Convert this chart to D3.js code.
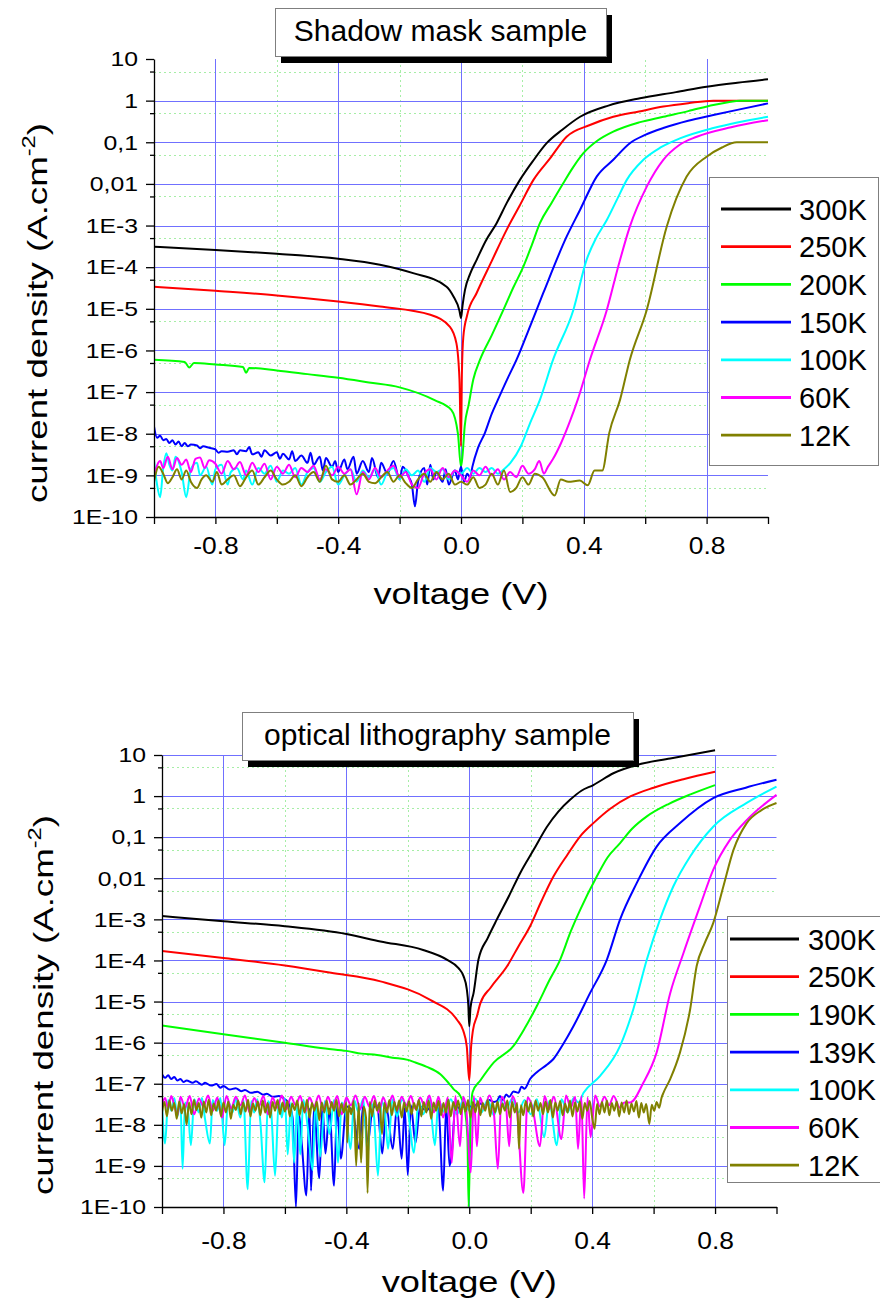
<!DOCTYPE html>
<html>
<head>
<meta charset="utf-8">
<script src="https://cdn.jsdelivr.net/npm/d3@7"></script>
<style>
  body { margin: 0; background: #fff; }
  svg { display: block; font-family: "Liberation Sans", Arial, sans-serif; }
</style>
</head>
<body>
<svg id="chart"></svg>
<script>
// ---------- axis values ----------
const yTickValues = [10, 1, 0.1, 0.01, 1e-3, 1e-4, 1e-5, 1e-6, 1e-7, 1e-8, 1e-9, 1e-10];
const yTickLabels = ["10", "1", "0,1", "0,01", "1E-3", "1E-4", "1E-5", "1E-6", "1E-7", "1E-8", "1E-9", "1E-10"];
const yMinorValues = [5, 0.5, 0.05, 5e-3, 5e-4, 5e-5, 5e-6, 5e-7, 5e-8, 5e-9, 5e-10];
const xLabelValues = [-0.8, -0.4, 0, 0.4, 0.8];
const xLabelText = ["-0.8", "-0.4", "0.0", "0.4", "0.8"];
const xMinorValues = [-1, -0.6, -0.2, 0.2, 0.6, 1];
const xGridMinor = [-0.6, -0.2, 0.2, 0.6];

const seriesColors = ["#000000", "#ff0000", "#00ff00", "#0000ff", "#00ffff", "#ff00ff", "#808000"];
const shadowNames = ["300K", "250K", "200K", "150K", "100K", "60K", "12K"];
const lithoNames = ["300K", "250K", "190K", "139K", "100K", "60K", "12K"];

// ---------- shadow mask sample: [voltage V, current density A/cm2] ----------
const shadow300 = [[-1,3.1e-4],[-0.8,2.6e-4],[-0.6,2.1e-4],[-0.4,1.6e-4],[-0.264,1.15e-4],[-0.156,7.2e-5],[-0.047,3.4e-5],[-0.025,2e-5],[-0.005,9e-6],[0,6e-6],[0.005,1.2e-5],[0.013,2.85e-5],[0.03,7e-5],[0.051,1.5e-4],[0.08,4.2e-4],[0.116,1.14e-3],[0.15,3.6e-3],[0.192,1.25e-2],[0.235,3.6e-2],[0.279,9.5e-2],[0.33,0.2],[0.388,0.41],[0.48,0.76],[0.583,1.14],[0.7,1.6],[0.8,2.16],[0.9,2.7],[1,3.26]];
const shadow250 = [[-1,3.4e-5],[-0.8,2.7e-5],[-0.6,2.1e-5],[-0.4,1.5e-5],[-0.264,1.13e-5],[-0.1,7.2e-6],[-0.036,3.7e-6],[-0.015,1.5e-6],[-0.005,2e-7],[0,5e-9],[0.003,3e-7],[0.0075,2.1e-6],[0.02,7e-6],[0.051,2.4e-5],[0.1,1.4e-4],[0.149,8e-4],[0.19,2.9e-3],[0.236,1.25e-2],[0.29,4.1e-2],[0.344,0.136],[0.42,0.26],[0.496,0.41],[0.58,0.55],[0.659,0.72],[0.74,0.87],[0.822,1],[0.9,1],[1,1]];
const shadow200 = [[-1,6e-7],[-0.9,5.3e-7],[-0.885,3.9e-7],[-0.87,5e-7],[-0.8,4.6e-7],[-0.71,4e-7],[-0.7,2.9e-7],[-0.69,3.8e-7],[-0.6,3.3e-7],[-0.5,2.7e-7],[-0.4,2.2e-7],[-0.3,1.7e-7],[-0.2,1.3e-7],[-0.086,6.4e-8],[-0.031,3.7e-8],[-0.01,1e-8],[0,1.6e-9],[0.005,3e-9],[0.012,1.5e-8],[0.025,5e-8],[0.04,2e-7],[0.062,6e-7],[0.1,2.3e-6],[0.138,9.4e-6],[0.17,3.2e-5],[0.203,1.03e-4],[0.23,3.3e-4],[0.257,1.14e-3],[0.295,3.5e-3],[0.333,1.04e-2],[0.365,2.5e-2],[0.398,5.4e-2],[0.445,0.11],[0.496,0.18],[0.58,0.3],[0.659,0.41],[0.74,0.56],[0.822,0.79],[0.87,0.92],[0.909,1],[1,1]];
const shadow150 = [[-1,1.5e-8],[-0.99,8e-9],[-0.98,9e-9],[-0.97,7e-9],[-0.96,7.5e-9],[-0.95,6e-9],[-0.94,7e-9],[-0.93,5.5e-9],[-0.92,6.5e-9],[-0.91,5e-9],[-0.9,6e-9],[-0.89,5e-9],[-0.88,5.5e-9],[-0.86,5.2e-9],[-0.85,4.5e-9],[-0.84,5e-9],[-0.82,4.6e-9],[-0.8,4.2e-9],[-0.79,3.5e-9],[-0.78,3.8e-9],[-0.76,3.7e-9],[-0.74,4e-9],[-0.73,3.2e-9],[-0.72,4e-9],[-0.7,3.8e-9],[-0.69,4.8e-9],[-0.68,3.2e-9],[-0.66,3.6e-9],[-0.65,2.8e-9],[-0.64,4e-9],[-0.62,3e-9],[-0.6,3.6e-9],[-0.59,2.5e-9],[-0.58,3.3e-9],[-0.56,2.4e-9],[-0.55,3.8e-9],[-0.54,2.2e-9],[-0.52,3e-9],[-0.5,2e-9],[-0.49,3.5e-9],[-0.48,1.8e-9],[-0.46,2.8e-9],[-0.45,1.3e-9],[-0.44,2.6e-9],[-0.42,1.6e-9],[-0.41,2.2e-9],[-0.4,1.2e-9],[-0.38,2.4e-9],[-0.37,1.4e-9],[-0.35,2.8e-9],[-0.34,1.1e-9],[-0.32,2.2e-9],[-0.3,1.2e-9],[-0.29,2.6e-9],[-0.27,9e-10],[-0.26,2e-9],[-0.24,1.1e-9],[-0.22,2.2e-9],[-0.2,8e-10],[-0.19,1.6e-9],[-0.17,9e-10],[-0.16,6e-10],[-0.15,1.8e-10],[-0.14,7e-10],[-0.12,1.5e-9],[-0.11,6e-10],[-0.1,1.8e-9],[-0.09,8e-10],[-0.08,1.2e-9],[-0.06,7e-10],[-0.05,1.4e-9],[-0.04,6e-10],[-0.02,1.3e-9],[-0.01,8e-10],[0,1.6e-9],[0.01,7e-10],[0.02,1.1e-9],[0.03,9e-10],[0.037,1.6e-9],[0.055,4.5e-9],[0.078,1.05e-8],[0.1,3e-8],[0.12,6.5e-8],[0.15,2e-7],[0.181,6e-7],[0.225,3.8e-6],[0.268,2.4e-5],[0.344,5.4e-4],[0.388,2.4e-3],[0.442,1.5e-2],[0.496,3.8e-2],[0.55,9.5e-2],[0.6,0.15],[0.659,0.22],[0.74,0.33],[0.822,0.45],[0.9,0.6],[1,0.86]];
const shadow100 = [[-1,2.3e-9],[-0.99,6e-10],[-0.98,3e-10],[-0.97,1.5e-9],[-0.96,3.4e-9],[-0.95,1.8e-9],[-0.94,1.3e-9],[-0.93,2.8e-9],[-0.91,1.2e-9],[-0.895,3e-10],[-0.88,1.4e-9],[-0.86,2e-9],[-0.85,1e-9],[-0.83,1.6e-9],[-0.81,6e-10],[-0.8,1.4e-9],[-0.78,1.8e-9],[-0.76,6e-10],[-0.75,1.2e-9],[-0.73,1.5e-9],[-0.71,8e-10],[-0.7,1.3e-9],[-0.68,6e-10],[-0.66,1.5e-9],[-0.64,1.1e-9],[-0.62,1.7e-9],[-0.6,7e-10],[-0.58,1.3e-9],[-0.56,1.1e-9],[-0.54,1.5e-9],[-0.52,6e-10],[-0.5,1.2e-9],[-0.48,1.5e-9],[-0.46,7e-10],[-0.44,1.2e-9],[-0.42,1.6e-9],[-0.4,6e-10],[-0.38,1e-9],[-0.36,1.4e-9],[-0.34,7e-10],[-0.32,1.3e-9],[-0.3,9e-10],[-0.28,1.4e-9],[-0.26,6e-10],[-0.24,1.2e-9],[-0.22,1.5e-9],[-0.2,8e-10],[-0.18,1.4e-9],[-0.16,1e-9],[-0.14,1.3e-9],[-0.12,7e-10],[-0.1,1.5e-9],[-0.08,1.2e-9],[-0.06,1.4e-9],[-0.04,8e-10],[-0.02,1.3e-9],[0,1.1e-9],[0.02,1.5e-9],[0.04,1.1e-9],[0.06,1.5e-9],[0.08,1.2e-9],[0.1,1.5e-9],[0.12,1.1e-9],[0.14,1.4e-9],[0.161,2e-9],[0.195,5e-9],[0.225,1.8e-8],[0.257,6.5e-8],[0.3,6e-7],[0.366,9.4e-6],[0.409,1.5e-4],[0.44,5e-4],[0.475,1.36e-3],[0.51,4.5e-3],[0.54,1.25e-2],[0.594,3.8e-2],[0.65,7.5e-2],[0.713,0.124],[0.822,0.22],[0.9,0.3],[1,0.41]];
const shadow60 = [[-1,1e-9],[-0.98,2.2e-9],[-0.97,1.5e-9],[-0.955,2.8e-9],[-0.94,1.4e-9],[-0.925,2.6e-9],[-0.91,1.8e-9],[-0.895,2.4e-9],[-0.88,1.2e-9],[-0.865,2.5e-9],[-0.85,2.7e-9],[-0.835,1.5e-9],[-0.82,2.3e-9],[-0.8,1.9e-9],[-0.78,1.1e-9],[-0.76,2.2e-9],[-0.74,1.4e-9],[-0.72,2.1e-9],[-0.7,1e-9],[-0.68,2e-9],[-0.66,1.2e-9],[-0.64,1.9e-9],[-0.62,8e-10],[-0.6,1.6e-9],[-0.58,1.1e-9],[-0.56,1.8e-9],[-0.54,9e-10],[-0.52,1.5e-9],[-0.5,1.2e-9],[-0.48,1.7e-9],[-0.46,8e-10],[-0.44,1.4e-9],[-0.42,1e-9],[-0.4,1.6e-9],[-0.38,1.1e-9],[-0.36,1.4e-9],[-0.34,3.5e-10],[-0.32,1.2e-9],[-0.3,8e-10],[-0.28,1.5e-9],[-0.26,9e-10],[-0.24,1.3e-9],[-0.22,1.7e-9],[-0.2,9e-10],[-0.18,1.2e-9],[-0.16,6e-10],[-0.14,5e-10],[-0.12,1.1e-9],[-0.1,1.4e-9],[-0.08,8e-10],[-0.06,1.5e-9],[-0.04,9e-10],[-0.02,1.3e-9],[0,1e-9],[0.02,7e-10],[0.04,1.3e-9],[0.06,1e-9],[0.08,1.6e-9],[0.1,1e-9],[0.12,1.4e-9],[0.14,8e-10],[0.16,1.2e-9],[0.18,9e-10],[0.2,1.7e-9],[0.22,1.1e-9],[0.24,1.4e-9],[0.255,2.2e-9],[0.27,1.1e-9],[0.283,1.6e-9],[0.3,2.5e-9],[0.326,6e-9],[0.355,2e-8],[0.38,6.5e-8],[0.42,6e-7],[0.475,9.4e-6],[0.512,1.03e-4],[0.55,9.4e-4],[0.605,8.6e-3],[0.659,3.8e-2],[0.71,8.5e-2],[0.768,0.136],[0.88,0.23],[1,0.34]];
const shadow12 = [[-1,7e-10],[-0.985,1.6e-9],[-0.97,1.1e-9],[-0.955,6.5e-10],[-0.94,9e-10],[-0.925,1.4e-9],[-0.91,8e-10],[-0.895,1.3e-9],[-0.88,7e-10],[-0.86,5e-10],[-0.845,8e-10],[-0.83,1e-9],[-0.81,7e-10],[-0.795,1.2e-9],[-0.78,6e-10],[-0.76,8e-10],[-0.74,1e-9],[-0.72,5.5e-10],[-0.7,9e-10],[-0.68,1.3e-9],[-0.66,6e-10],[-0.64,9e-10],[-0.62,1.3e-9],[-0.6,8e-10],[-0.58,6e-10],[-0.56,7e-10],[-0.54,1e-9],[-0.52,5.5e-10],[-0.5,9e-10],[-0.48,1.2e-9],[-0.46,7e-10],[-0.44,1.7e-9],[-0.42,8e-10],[-0.4,7e-10],[-0.38,1e-9],[-0.36,6e-10],[-0.34,8e-10],[-0.32,1.1e-9],[-0.3,7e-10],[-0.28,6.5e-10],[-0.26,9e-10],[-0.24,1.2e-9],[-0.22,7e-10],[-0.2,1e-9],[-0.18,6.5e-10],[-0.16,5e-10],[-0.14,8e-10],[-0.12,1.1e-9],[-0.1,7e-10],[-0.08,1.2e-9],[-0.06,8e-10],[-0.04,1.1e-9],[-0.02,6e-10],[0,7e-10],[0.02,6e-10],[0.04,9e-10],[0.06,5e-10],[0.08,6e-10],[0.1,1.1e-9],[0.12,6e-10],[0.14,1.3e-9],[0.16,4e-10],[0.18,5e-10],[0.2,9e-10],[0.22,6e-10],[0.24,1.1e-9],[0.265,9e-10],[0.305,3.3e-10],[0.325,8e-10],[0.35,7e-10],[0.387,7.5e-10],[0.413,5.8e-10],[0.435,1.3e-9],[0.46,1.3e-9],[0.483,1.05e-8],[0.518,6.5e-8],[0.55,6e-7],[0.605,9.4e-6],[0.67,9.4e-4],[0.735,1.5e-2],[0.8,4.5e-2],[0.85,7.5e-2],[0.898,0.1],[1,0.1]];

// ---------- optical lithography sample ----------
const litho300 = [[-1,1.2e-3],[-0.8,9e-4],[-0.6,6.8e-4],[-0.4,4.4e-4],[-0.289,2.9e-4],[-0.15,1.8e-4],[-0.073,1.05e-4],[-0.035,6.5e-5],[-0.019,4.2e-5],[-0.008,2e-5],[-0.003,8e-6],[0,2.5e-6],[0.004,7e-6],[0.014,1.6e-5],[0.03,1.05e-4],[0.06,3.5e-4],[0.09,1e-3],[0.13,3.8e-3],[0.166,1.35e-2],[0.21,5e-2],[0.253,0.18],[0.29,0.42],[0.328,0.81],[0.365,1.35],[0.404,1.86],[0.469,3.6],[0.545,5.7],[0.654,8.2],[0.8,13]];
const litho250 = [[-1,1.7e-4],[-0.8,1.15e-4],[-0.6,7.5e-5],[-0.45,5e-5],[-0.289,3.1e-5],[-0.127,1.1e-5],[-0.04,3.6e-6],[-0.02,2e-6],[-0.008,8e-7],[0,1.2e-7],[0.006,8e-7],[0.012,2e-6],[0.025,4.4e-6],[0.036,9e-6],[0.07,2.2e-5],[0.123,7.2e-5],[0.16,2.2e-4],[0.198,6.8e-4],[0.235,2.8e-3],[0.274,1.1e-2],[0.32,3.8e-2],[0.361,0.105],[0.404,0.22],[0.46,0.5],[0.524,0.98],[0.6,1.6],[0.7,2.6],[0.8,3.9]];
const litho190 = [[-1,2.6e-6],[-0.8,1.6e-6],[-0.6,1e-6],[-0.468,7.2e-7],[-0.4,6.3e-7],[-0.35,5.4e-7],[-0.3,5e-7],[-0.25,4.3e-7],[-0.2,3.8e-7],[-0.181,3.4e-7],[-0.14,2.6e-7],[-0.094,1.7e-7],[-0.07,1.1e-7],[-0.051,7.4e-8],[-0.029,5e-8],[-0.015,2.5e-8],[-0.006,5e-9],[-0.002,1e-10],[0.002,2e-9],[0.006,2.5e-8],[0.011,6.3e-8],[0.036,1.2e-7],[0.08,3.3e-7],[0.144,8.3e-7],[0.18,2.2e-6],[0.22,7.8e-6],[0.26,3.2e-5],[0.296,1.05e-4],[0.33,5e-4],[0.361,1.7e-3],[0.415,1.1e-2],[0.45,3.2e-2],[0.491,7.2e-2],[0.53,0.16],[0.578,0.32],[0.65,0.65],[0.72,1.1],[0.8,1.85]];
const litho139 = [[-1,1.7e-7],[-0.99,1.4e-7],[-0.98,1.6e-7],[-0.97,1.3e-7],[-0.96,1.45e-7],[-0.95,1.2e-7],[-0.94,1.3e-7],[-0.93,1.1e-7],[-0.92,1.2e-7],[-0.9,1.05e-7],[-0.89,1.15e-7],[-0.87,9.5e-8],[-0.86,1.05e-7],[-0.84,9e-8],[-0.823,9.8e-8],[-0.81,8e-8],[-0.8,8.8e-8],[-0.78,7.2e-8],[-0.76,7.8e-8],[-0.742,6.6e-8],[-0.73,7e-8],[-0.71,6e-8],[-0.69,6.4e-8],[-0.67,5.4e-8],[-0.659,5.7e-8],[-0.64,4.8e-8],[-0.62,5e-8],[-0.6,4.2e-8],[-0.59,3.6e-8],[-0.575,1.5e-8],[-0.564,1e-10],[-0.555,2e-8],[-0.545,3.4e-9],[-0.53,1.9e-10],[-0.52,2.5e-8],[-0.515,2.5e-10],[-0.505,2.8e-8],[-0.488,5e-10],[-0.478,3e-8],[-0.468,2e-9],[-0.455,2.5e-8],[-0.44,3.3e-10],[-0.43,3e-8],[-0.418,1.5e-9],[-0.4,2.8e-8],[-0.38,2.2e-8],[-0.358,2.6e-9],[-0.345,3e-8],[-0.33,3.7e-9],[-0.315,2.4e-8],[-0.3,3e-8],[-0.283,2e-9],[-0.27,2.7e-8],[-0.249,2.6e-9],[-0.235,2.8e-8],[-0.22,1.5e-9],[-0.21,2.6e-8],[-0.2,6e-10],[-0.19,3e-8],[-0.175,3.6e-9],[-0.16,2.8e-8],[-0.14,2.2e-8],[-0.12,3e-8],[-0.1,2.5e-8],[-0.085,2.5e-10],[-0.075,2.8e-8],[-0.064,1e-9],[-0.057,2e-9],[-0.045,3e-8],[-0.03,2.4e-8],[-0.01,3.2e-8],[0.01,2.6e-8],[0.03,3.4e-8],[0.05,3e-8],[0.065,4e-8],[0.08,3.6e-8],[0.09,3.8e-8],[0.1,5e-8],[0.11,4e-8],[0.12,5.5e-8],[0.13,4.8e-8],[0.144,6.5e-8],[0.16,6e-8],[0.17,8.5e-8],[0.18,7.5e-8],[0.198,1.3e-7],[0.22,1.9e-7],[0.25,2.8e-7],[0.274,4e-7],[0.305,9e-7],[0.339,2.5e-6],[0.393,1.6e-5],[0.448,1.05e-4],[0.491,1e-3],[0.545,7.6e-3],[0.61,5.9e-2],[0.686,0.22],[0.794,0.89],[0.9,1.6],[1,2.5]];
const litho100 = [[-1,3e-8],[-0.99,3.5e-9],[-0.98,4e-8],[-0.97,2.2e-8],[-0.96,4.5e-8],[-0.95,1.6e-8],[-0.94,4e-8],[-0.933,8.5e-10],[-0.925,3.5e-8],[-0.915,2e-8],[-0.906,3.2e-9],[-0.895,4.2e-8],[-0.88,2e-8],[-0.87,4.5e-8],[-0.86,1.4e-8],[-0.844,3.5e-9],[-0.835,4e-8],[-0.82,2.2e-8],[-0.81,4.5e-8],[-0.796,3.2e-9],[-0.785,3.8e-8],[-0.77,2e-8],[-0.76,4.5e-8],[-0.745,1.5e-8],[-0.735,4e-8],[-0.721,2.7e-10],[-0.71,3.8e-8],[-0.7,2e-8],[-0.69,4.2e-8],[-0.68,1.2e-8],[-0.666,4e-10],[-0.655,3.8e-8],[-0.645,2.2e-8],[-0.632,5.8e-10],[-0.62,4e-8],[-0.61,1.5e-8],[-0.6,4.4e-8],[-0.591,1.9e-9],[-0.58,3.5e-8],[-0.57,1.2e-9],[-0.56,3e-8],[-0.55,1.9e-9],[-0.54,4e-8],[-0.525,8e-9],[-0.51,8e-10],[-0.5,3.5e-8],[-0.485,1.7e-9],[-0.47,3.8e-8],[-0.455,6e-9],[-0.44,4e-8],[-0.427,1.2e-9],[-0.415,3.5e-8],[-0.4,1.5e-8],[-0.386,2.6e-9],[-0.375,4e-8],[-0.36,2e-8],[-0.345,4.3e-8],[-0.33,1.8e-9],[-0.32,3.6e-8],[-0.31,1.6e-8],[-0.297,5.8e-10],[-0.285,3.8e-8],[-0.275,2e-8],[-0.264,2.6e-9],[-0.25,4.2e-8],[-0.235,1.6e-8],[-0.22,4e-8],[-0.2,2.2e-8],[-0.18,2.1e-9],[-0.165,4e-8],[-0.15,1.8e-8],[-0.13,4.4e-8],[-0.112,3.2e-9],[-0.1,3.8e-8],[-0.08,2e-8],[-0.06,4.2e-8],[-0.04,1.8e-8],[-0.02,4e-8],[0,2.2e-8],[0.02,4.3e-8],[0.04,2e-8],[0.06,4e-8],[0.08,1.7e-8],[0.1,4.2e-8],[0.12,2.4e-8],[0.14,4.4e-8],[0.16,2e-8],[0.18,4e-8],[0.2,1.8e-8],[0.22,4.2e-8],[0.244,5e-9],[0.26,3.8e-8],[0.285,3.2e-9],[0.3,4.2e-8],[0.32,2e-8],[0.34,4.5e-8],[0.355,3.5e-8],[0.372,6e-8],[0.426,1.55e-7],[0.491,8.3e-7],[0.534,6.5e-6],[0.578,1.05e-4],[0.621,1e-3],[0.664,6.3e-3],[0.719,3.4e-2],[0.794,0.18],[0.903,0.68],[1,1.7]];
const litho60 = [[-1,3e-8],[-0.99,4.5e-8],[-0.98,2.5e-8],[-0.97,5e-8],[-0.96,3e-8],[-0.95,1.7e-8],[-0.94,4.8e-8],[-0.925,2.6e-8],[-0.91,5e-8],[-0.895,1.8e-8],[-0.88,4.4e-8],[-0.865,2.8e-8],[-0.85,5.2e-8],[-0.835,2.2e-8],[-0.82,4.6e-8],[-0.805,1.5e-8],[-0.79,5e-8],[-0.775,2.5e-8],[-0.76,4.8e-8],[-0.745,3e-8],[-0.73,5.2e-8],[-0.715,2e-8],[-0.7,4.5e-8],[-0.685,2.8e-8],[-0.67,5e-8],[-0.655,1.8e-8],[-0.64,4.6e-8],[-0.625,2.6e-8],[-0.61,5.2e-8],[-0.595,2.4e-8],[-0.58,4.8e-8],[-0.565,3e-8],[-0.55,5e-8],[-0.535,2e-8],[-0.52,4.6e-8],[-0.505,2.8e-8],[-0.49,5.2e-8],[-0.475,2.2e-8],[-0.46,4.8e-8],[-0.445,2.6e-8],[-0.43,5e-8],[-0.415,1.8e-8],[-0.4,4.6e-8],[-0.385,3e-8],[-0.37,5.2e-8],[-0.355,2.4e-8],[-0.34,4.8e-8],[-0.325,2.8e-8],[-0.31,5e-8],[-0.295,2e-8],[-0.28,4.6e-8],[-0.265,2.6e-8],[-0.25,5.2e-8],[-0.235,2.2e-8],[-0.22,4.8e-8],[-0.205,3e-8],[-0.19,5e-8],[-0.175,2.4e-8],[-0.16,4.6e-8],[-0.145,2.8e-8],[-0.13,5.2e-8],[-0.115,2e-8],[-0.1,4.8e-8],[-0.085,1.5e-8],[-0.07,4.6e-8],[-0.057,1.2e-9],[-0.045,5e-8],[-0.03,3e-9],[-0.02,4.8e-8],[-0.01,2.5e-8],[0.005,7e-10],[0.015,5e-8],[0.025,3e-9],[0.035,4.6e-8],[0.05,2.4e-8],[0.065,5.2e-8],[0.08,2e-8],[0.093,8.5e-10],[0.105,4.8e-8],[0.12,2.6e-8],[0.13,3e-9],[0.14,5e-8],[0.155,2.2e-8],[0.176,2.2e-10],[0.19,4.6e-8],[0.205,2.8e-8],[0.23,3e-9],[0.245,5e-8],[0.26,2.4e-8],[0.275,4.8e-8],[0.3,4.5e-9],[0.315,5.2e-8],[0.33,2.6e-8],[0.345,4.8e-8],[0.354,2.6e-9],[0.365,5e-8],[0.374,1.6e-10],[0.385,4.6e-8],[0.395,5e-9],[0.41,5.2e-8],[0.425,2.8e-8],[0.44,4.8e-8],[0.455,3e-8],[0.47,5e-8],[0.49,2.6e-8],[0.505,3.5e-8],[0.524,3.5e-8],[0.567,1.07e-7],[0.61,5.8e-7],[0.654,1.6e-5],[0.697,1.5e-4],[0.751,2.1e-3],[0.794,1.6e-2],[0.849,8.7e-2],[0.903,0.26],[1,1.07]];
const litho12 = [[-1,2e-8],[-0.992,3.6e-8],[-0.984,1.6e-8],[-0.976,3.9e-8],[-0.968,2.2e-8],[-0.96,3.4e-8],[-0.952,1.4e-8],[-0.944,3.7e-8],[-0.936,1.9e-8],[-0.928,3.2e-8],[-0.92,1e-8],[-0.912,3.5e-8],[-0.904,1.8e-8],[-0.896,4e-8],[-0.888,2.3e-8],[-0.88,3.4e-8],[-0.872,1.5e-8],[-0.864,3.7e-8],[-0.856,2e-8],[-0.848,4.1e-8],[-0.84,1.7e-8],[-0.832,3.3e-8],[-0.824,2.2e-8],[-0.816,3.9e-8],[-0.808,1.6e-8],[-0.8,3.5e-8],[-0.792,2e-8],[-0.784,3.7e-8],[-0.776,1.4e-8],[-0.768,3.1e-8],[-0.76,2.3e-8],[-0.752,3.9e-8],[-0.744,1.8e-8],[-0.736,3.5e-8],[-0.728,2.1e-8],[-0.72,4.1e-8],[-0.712,1.6e-8],[-0.704,3.3e-8],[-0.696,2.2e-8],[-0.688,3.7e-8],[-0.68,1.7e-8],[-0.672,3.9e-8],[-0.664,2e-8],[-0.656,3.4e-8],[-0.648,1.5e-8],[-0.64,3.6e-8],[-0.632,2.2e-8],[-0.624,4e-8],[-0.616,1.8e-8],[-0.608,3.5e-8],[-0.6,2.1e-8],[-0.592,3.8e-8],[-0.584,1.6e-8],[-0.576,3.3e-8],[-0.568,2.3e-8],[-0.56,3.9e-8],[-0.552,1.7e-8],[-0.544,3.6e-8],[-0.536,2e-8],[-0.528,4.1e-8],[-0.52,1.5e-8],[-0.512,3.4e-8],[-0.504,2.2e-8],[-0.496,3.7e-8],[-0.488,1.3e-8],[-0.48,3.5e-8],[-0.472,2e-8],[-0.464,3.9e-8],[-0.456,1.8e-8],[-0.448,3.6e-8],[-0.44,2.2e-8],[-0.432,4e-8],[-0.424,1.6e-8],[-0.416,3.3e-8],[-0.408,2e-8],[-0.4,3.5e-8],[-0.397,3.7e-9],[-0.392,3e-8],[-0.384,1.8e-8],[-0.376,3.8e-8],[-0.368,1e-9],[-0.36,3.4e-8],[-0.352,1.2e-9],[-0.344,2.8e-8],[-0.336,1.5e-8],[-0.331,2.2e-10],[-0.324,3.6e-8],[-0.316,1.6e-8],[-0.308,3.9e-8],[-0.3,2.2e-8],[-0.292,3.5e-8],[-0.284,6e-9],[-0.276,3.4e-8],[-0.268,2e-8],[-0.26,4e-8],[-0.252,1.7e-8],[-0.244,3.6e-8],[-0.236,2.2e-8],[-0.228,3.9e-8],[-0.22,1.5e-8],[-0.212,3.5e-8],[-0.204,2.1e-8],[-0.196,3.8e-8],[-0.188,1.8e-8],[-0.18,3.4e-8],[-0.172,2.3e-8],[-0.164,4e-8],[-0.156,1.6e-8],[-0.148,3.6e-8],[-0.14,2e-8],[-0.132,3.9e-8],[-0.124,1.4e-8],[-0.116,3.5e-8],[-0.108,2.2e-8],[-0.1,3.8e-8],[-0.092,1.7e-8],[-0.084,3.4e-8],[-0.076,2e-8],[-0.068,4.1e-8],[-0.06,1.6e-8],[-0.052,3.6e-8],[-0.044,2.3e-8],[-0.036,3.9e-8],[-0.028,1.8e-8],[-0.02,3.5e-8],[-0.012,2.1e-8],[-0.004,4e-8],[0.004,1.5e-8],[0.012,3.6e-8],[0.02,2e-8],[0.028,3.8e-8],[0.036,1.7e-8],[0.044,3.4e-8],[0.052,2.2e-8],[0.06,4e-8],[0.068,1.6e-8],[0.076,3.5e-8],[0.084,2e-8],[0.092,3.7e-8],[0.1,1.8e-8],[0.108,3.3e-8],[0.116,2.2e-8],[0.124,3.9e-8],[0.132,1.5e-8],[0.14,3.6e-8],[0.148,2e-8],[0.156,3.4e-8],[0.162,2.6e-9],[0.168,3e-8],[0.176,1.7e-8],[0.184,3.8e-8],[0.192,2.1e-8],[0.2,3.5e-8],[0.208,1.6e-8],[0.216,3.9e-8],[0.224,2.2e-8],[0.232,3.4e-8],[0.24,1.8e-8],[0.248,3.7e-8],[0.256,2e-8],[0.264,4e-8],[0.272,1.5e-8],[0.28,3.5e-8],[0.288,2.2e-8],[0.296,3.8e-8],[0.304,1.7e-8],[0.312,3.3e-8],[0.32,2e-8],[0.328,3.9e-8],[0.336,1.6e-8],[0.344,3.5e-8],[0.352,2.1e-8],[0.36,3.7e-8],[0.368,1.4e-8],[0.376,3.4e-8],[0.384,2.2e-8],[0.392,3.8e-8],[0.4,1.5e-8],[0.408,8e-9],[0.416,3.2e-8],[0.424,1.8e-8],[0.432,3.6e-8],[0.44,2e-8],[0.448,3.9e-8],[0.456,1.7e-8],[0.464,3.4e-8],[0.472,2.2e-8],[0.48,3.7e-8],[0.488,1.6e-8],[0.496,3.5e-8],[0.504,2e-8],[0.512,3.9e-8],[0.52,1.8e-8],[0.528,3.3e-8],[0.536,2.1e-8],[0.544,3.8e-8],[0.552,1.5e-8],[0.56,3.4e-8],[0.568,2e-8],[0.576,3.2e-8],[0.586,1.05e-8],[0.594,3.1e-8],[0.602,2.2e-8],[0.61,3.6e-8],[0.618,2.6e-8],[0.626,4.6e-8],[0.632,6e-8],[0.654,1.3e-7],[0.686,5.8e-7],[0.719,6.5e-6],[0.74,7.2e-5],[0.767,2.7e-4],[0.794,8.1e-4],[0.827,6.3e-3],[0.86,4.9e-2],[0.903,0.22],[0.95,0.45],[1,0.68]];

const shadowSeries = [shadow300, shadow250, shadow200, shadow150, shadow100, shadow60, shadow12];
const lithoSeries = [litho300, litho250, litho190, litho139, litho100, litho60, litho12];

// ---------- drawing ----------
const W = 880, H = 1302;
const svg = d3.select("#chart").attr("width", W).attr("height", H);
const gridMajor = "#7070ff", gridMinor = "#a6eea6";
const FONT = "Liberation Sans, Arial, sans-serif";

function stretch(sel, k) {
  sel.each(function () {
    const len = this.getComputedTextLength();
    d3.select(this).attr("textLength", len * k).attr("lengthAdjust", "spacingAndGlyphs");
  });
}

function drawPanel(cfg) {
  const g = svg.append("g");
  const x = d3.scaleLinear().domain([-1, 1]).range([cfg.x0, cfg.x1]);
  const y = d3.scaleLog().domain([1e-10, 10]).range([cfg.yb, cfg.yt]);
  const px = v => Math.round(x(v)) + 0.5;
  const py = v => Math.round(y(v)) + 0.5;

  // grid
  const grid = g.append("g").attr("stroke-width", 1);
  grid.selectAll(".hm").data(yMinorValues).join("line")
    .attr("x1", cfg.x0).attr("x2", cfg.x1).attr("y1", py).attr("y2", py)
    .attr("stroke", gridMinor).attr("stroke-dasharray", "2,3");
  grid.selectAll(".vm").data(xGridMinor).join("line")
    .attr("x1", px).attr("x2", px).attr("y1", cfg.yb).attr("y2", cfg.yt)
    .attr("stroke", gridMinor).attr("stroke-dasharray", "2,3");
  grid.selectAll(".hM").data(cfg.hGrid).join("line")
    .attr("x1", cfg.x0).attr("x2", cfg.x1).attr("y1", py).attr("y2", py)
    .attr("stroke", gridMajor);
  grid.selectAll(".vM").data(xLabelValues).join("line")
    .attr("x1", px).attr("x2", px).attr("y1", cfg.yb).attr("y2", cfg.yt)
    .attr("stroke", gridMajor);

  // curves
  const clipId = "clip" + cfg.id;
  svg.append("clipPath").attr("id", clipId).append("rect")
    .attr("x", cfg.x0).attr("y", cfg.yt - 10).attr("width", cfg.x1 - cfg.x0 + 2).attr("height", cfg.yb - cfg.yt + 11);
  const line = d3.line().x(d => x(d[0])).y(d => y(d[1])).curve(d3.curveMonotoneX);
  g.append("g").attr("clip-path", `url(#${clipId})`)
    .selectAll("path").data(cfg.series).join("path")
    .attr("d", line).attr("fill", "none")
    .attr("stroke", (d, i) => seriesColors[i])
    .attr("stroke-width", 2).attr("stroke-linejoin", "round");

  // y axis
  const yAxis = g.append("g").attr("transform", `translate(${cfg.x0},0)`)
    .call(d3.axisLeft(y).tickValues(yTickValues).tickSize(8).tickSizeOuter(0).tickPadding(8)
      .tickFormat((d, i) => yTickLabels[i]));
  yAxis.append("g").call(d3.axisLeft(y).tickValues(yMinorValues).tickSize(4).tickFormat(""))
    .select(".domain").remove();
  yAxis.selectAll("line, path").attr("stroke", "#000").attr("stroke-width", 1.3);
  yAxis.selectAll("text").attr("font-size", 21).attr("font-family", FONT).attr("fill", "#000");
  stretch(yAxis.selectAll("text"), 1.18);

  // x axis
  const xAxis = g.append("g").attr("transform", `translate(0,${cfg.yb})`)
    .call(d3.axisBottom(x).tickValues(xLabelValues).tickSize(7).tickSizeOuter(0)
      .tickFormat((d, i) => xLabelText[i]));
  xAxis.append("g").call(d3.axisBottom(x).tickValues(xMinorValues).tickSize(7).tickFormat(""))
    .select(".domain").remove();
  xAxis.selectAll("line, path").attr("stroke", "#000").attr("stroke-width", 1.3);
  xAxis.selectAll("text").attr("font-size", 24).attr("font-family", FONT)
    .attr("fill", "#000").attr("dy", null).attr("y", cfg.xLabelDy);
  stretch(xAxis.selectAll("text"), 1.1);

  // axis titles
  g.append("text").attr("x", (cfg.x0 + cfg.x1) / 2).attr("y", cfg.yb + cfg.xTitleDy)
    .attr("text-anchor", "middle").attr("font-size", 30).text("voltage (V)")
    .attr("textLength", 175).attr("lengthAdjust", "spacingAndGlyphs");

  const yt = g.append("text")
    .attr("transform", `translate(${cfg.yTitleX},${cfg.yTitleY}) rotate(-90)`)
    .attr("text-anchor", "middle").attr("font-size", 28);
  yt.append("tspan").text("current density (A.cm");
  yt.append("tspan").attr("font-size", 18).attr("dy", -12).text("-2");
  yt.append("tspan").attr("dy", 12).text(")");
  yt.attr("textLength", 380).attr("lengthAdjust", "spacingAndGlyphs");

  // legend
  const lg = g.append("g");
  lg.append("rect").attr("x", cfg.legend.x + 0.5).attr("y", cfg.legend.y + 0.5)
    .attr("width", cfg.legend.w).attr("height", cfg.legend.h)
    .attr("fill", "#fff").attr("stroke", "#7f7f7f").attr("stroke-width", 1);
  cfg.names.forEach((name, i) => {
    const ry = cfg.legend.row0 + i * 37.7;
    lg.append("line").attr("x1", cfg.legend.lx0).attr("x2", cfg.legend.lx1)
      .attr("y1", ry).attr("y2", ry).attr("stroke", seriesColors[i]).attr("stroke-width", 2.8);
    lg.append("text").attr("x", cfg.legend.tx).attr("y", ry + 10.5)
      .attr("font-size", 29).attr("fill", "#000").text(name);
  });

  // title box with drop shadow
  const tb = cfg.titleBox;
  g.append("rect").attr("x", tb.x + 6).attr("y", tb.y + 7).attr("width", tb.w).attr("height", tb.h).attr("fill", "#000");
  g.append("rect").attr("x", tb.x + 0.5).attr("y", tb.y + 0.5).attr("width", tb.w).attr("height", tb.h)
    .attr("fill", "#fff").attr("stroke", "#7f7f7f");
  g.append("text").attr("x", tb.x + tb.w / 2).attr("y", tb.y + tb.base)
    .attr("text-anchor", "middle").attr("font-size", 30).attr("fill", "#000").text(tb.text);
}

drawPanel({
  id: "top", x0: 154, x1: 768, yt: 59, yb: 517,
  hGrid: [1, 0.1, 0.01, 1e-3, 1e-4, 1e-5, 1e-6, 1e-7, 1e-8, 1e-9],
  series: shadowSeries, names: shadowNames,
  xLabelDy: 37, xTitleDy: 87, yTitleX: 47, yTitleY: 313,
  legend: { x: 709, y: 177, w: 169, h: 288, row0: 209, lx0: 721, lx1: 791, tx: 799 },
  titleBox: { x: 275, y: 8, w: 331, h: 48, base: 33, text: "Shadow mask sample" }
});

drawPanel({
  id: "bot", x0: 162, x1: 776.5, yt: 755, yb: 1207,
  hGrid: [10, 1, 0.1, 0.01, 1e-3, 1e-4, 1e-5, 1e-6, 1e-7, 1e-8, 1e-9],
  series: lithoSeries, names: lithoNames,
  xLabelDy: 42, xTitleDy: 85, yTitleX: 53, yTitleY: 1005,
  legend: { x: 727, y: 916, w: 170, h: 266, row0: 939, lx0: 730, lx1: 799, tx: 808 },
  titleBox: { x: 242, y: 712, w: 391, h: 48, base: 33, text: "optical lithography sample" }
});
</script>
</body>
</html>
